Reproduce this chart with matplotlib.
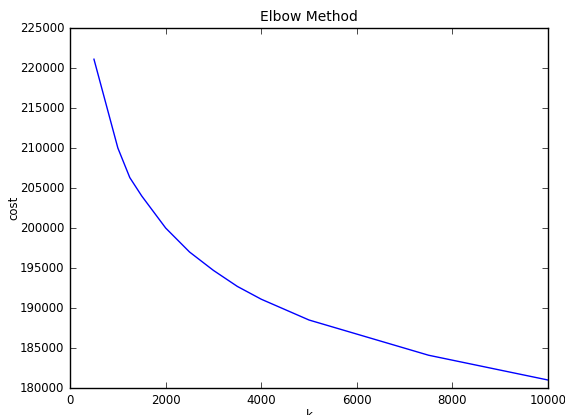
import matplotlib
matplotlib.use("Agg")
import matplotlib.pyplot as plt

plt.style.use("classic")

k_values = [500, 1000, 1250, 1500, 1750, 2000, 2500, 3000, 3500, 4000, 5000, 7500, 10000]
cost = [221100, 210000, 206300, 204000, 202000, 200000, 197000, 194700, 192700, 191100, 188500, 184100, 181000]

fig = plt.figure(figsize=(5.65, 4.15), dpi=100)
ax = fig.add_axes([0.124, 0.065, 0.846, 0.8675])
ax.plot(k_values, cost, color="blue", linewidth=1.0)
ax.set_xlim(0, 10000)
ax.set_ylim(180000, 225000)
ax.set_title("Elbow Method", fontsize=10)
ax.set_xlabel("k", fontsize=8.5, labelpad=2)
ax.set_ylabel("cost", fontsize=8.5, labelpad=0)
ax.tick_params(labelsize=8.5)
ax.ticklabel_format(useOffset=False, style="plain")
fig.savefig("out.png", dpi=100)
